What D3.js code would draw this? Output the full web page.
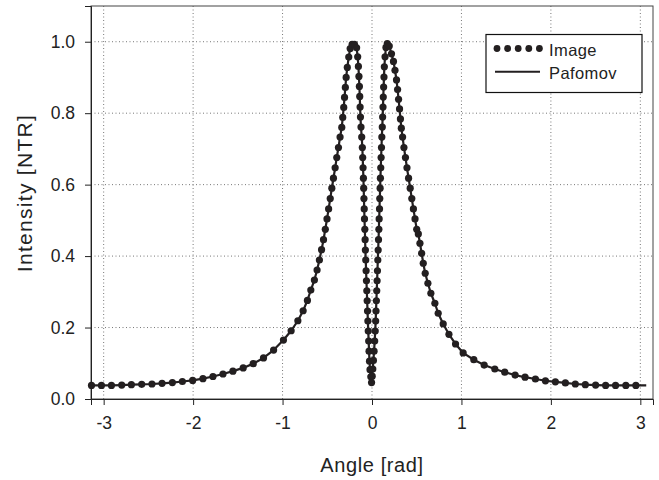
<!DOCTYPE html>
<html>
<head>
<meta charset="utf-8">
<script src="https://cdn.jsdelivr.net/npm/d3@7"></script>
<style>
  html, body { margin: 0; padding: 0; background: #fff; }
  svg { display: block; font-family: "Liberation Sans", Arial, Helvetica, sans-serif; }
</style>
</head>
<body>
<svg id="chart" width="659" height="480"></svg>
<script>
// ---- data ----
const xTicks = [-3, -2, -1, 0, 1, 2, 3];
const yTicks = [0.0, 0.2, 0.4, 0.6, 0.8, 1.0];
const seriesNames = ["Image", "Pafomov"];

// "Image" measured points (angle in rad, intensity in NTR)
const imageAngle = [
  -3.136, -3.025, -2.913, -2.798, -2.690, -2.575, -2.460, -2.347, -2.232, -2.120,
  -2.005, -1.890, -1.778, -1.666, -1.555, -1.440, -1.328, -1.213, -1.100, -0.990,
  -0.904, -0.829, -0.770, -0.722, -0.684, -0.644, -0.614, -0.588,
  -0.564, -0.542, -0.522, -0.503, -0.485, -0.467, -0.449, -0.431, -0.412, -0.394, -0.375, -0.357,
  -0.338, -0.327, -0.316, -0.307, -0.298, -0.289, -0.276, -0.260, -0.244, -0.222, -0.196,
  -0.172, -0.160, -0.152, -0.146, -0.141, -0.137, -0.133, -0.129, -0.123, -0.115, -0.108,
  -0.104, -0.100, -0.096, -0.093, -0.090, -0.087, -0.084, -0.080, -0.077, -0.074,
  -0.070, -0.066, -0.062, -0.058, -0.054, -0.050, -0.046, -0.042, -0.037, -0.033, -0.028, -0.022, -0.013, -0.005,
  0.002,
  0.009, 0.016, 0.023, 0.030, 0.036, 0.041, 0.045, 0.049, 0.053, 0.057, 0.061, 0.065, 0.069, 0.073,
  0.077, 0.080, 0.084, 0.087, 0.091, 0.094, 0.098, 0.102, 0.106, 0.110,
  0.115, 0.119, 0.123, 0.126, 0.130, 0.134, 0.138, 0.146, 0.156, 0.171, 0.193, 0.218,
  0.240, 0.257, 0.274, 0.286, 0.297, 0.308, 0.318, 0.328, 0.342, 0.357,
  0.374, 0.391, 0.409, 0.427, 0.445, 0.463, 0.481, 0.500, 0.518, 0.536,
  0.555, 0.573, 0.595, 0.625, 0.658, 0.703, 0.740, 0.796, 0.860, 0.934,
  1.019, 1.138, 1.254, 1.373, 1.484, 1.600, 1.711, 1.827, 1.939, 2.050,
  2.162, 2.273, 2.385, 2.500, 2.612, 2.723, 2.838, 2.950, 3.066
];
const imageIntensity = [
  0.038, 0.038, 0.038, 0.039, 0.040, 0.041, 0.042, 0.044, 0.046, 0.049,
  0.052, 0.057, 0.063, 0.070, 0.078, 0.087, 0.099, 0.115, 0.137, 0.165,
  0.191, 0.219, 0.247, 0.276, 0.305, 0.333, 0.361, 0.389,
  0.418, 0.446, 0.475, 0.504, 0.532, 0.561, 0.590, 0.618, 0.647, 0.676, 0.704, 0.733,
  0.760, 0.788, 0.816, 0.844, 0.872, 0.900, 0.928, 0.957, 0.981, 0.993, 0.993,
  0.983, 0.958, 0.931, 0.903, 0.875, 0.847, 0.817, 0.789, 0.761, 0.733, 0.704,
  0.676, 0.647, 0.618, 0.590, 0.561, 0.532, 0.504, 0.475, 0.446, 0.417,
  0.389, 0.359, 0.331, 0.303, 0.275, 0.246, 0.218, 0.190, 0.162, 0.134, 0.106, 0.082, 0.062,
  0.046,
  0.064, 0.084, 0.108, 0.134, 0.162, 0.190, 0.218, 0.246, 0.275, 0.303, 0.331, 0.359, 0.389, 0.417,
  0.446, 0.475, 0.504, 0.532, 0.561, 0.590, 0.618, 0.647, 0.676, 0.704,
  0.733, 0.761, 0.789, 0.817, 0.845, 0.873, 0.901, 0.930, 0.958, 0.984, 0.995, 0.988,
  0.966, 0.945, 0.920, 0.893, 0.866, 0.839, 0.812, 0.784, 0.758, 0.733,
  0.704, 0.676, 0.647, 0.618, 0.590, 0.561, 0.532, 0.504, 0.475, 0.462,
  0.436, 0.408, 0.380, 0.352, 0.324, 0.296, 0.268, 0.240, 0.210, 0.181,
  0.154, 0.129, 0.110, 0.095, 0.084, 0.075, 0.067, 0.061, 0.056, 0.051,
  0.048, 0.045, 0.042, 0.040, 0.039, 0.038, 0.038, 0.038, 0.038
];
// "Pafomov" calculated curve (same sampling, extended to the plot edges)
const pafomovAngle = [-Math.PI].concat(imageAngle, [Math.PI]);
const pafomovIntensity = [0.038].concat(imageIntensity, [0.038]);

// ---- layout ----
const plot = { left: 91, top: 6, right: 653, bottom: 399 };
const svg = d3.select("#chart");

const x = d3.scaleLinear().domain([-Math.PI, Math.PI]).range([plot.left, plot.right]);
const y = d3.scaleLinear().domain([0, 1.1]).range([plot.bottom, plot.top]);

const ink = "#231f20";
const font = "Liberation Sans, Arial, sans-serif";

// grid
const grid = svg.append("g");
grid.selectAll("line.gx").data(xTicks).enter().append("line")
  .attr("x1", d => x(d)).attr("x2", d => x(d))
  .attr("y1", plot.top).attr("y2", plot.bottom)
  .attr("stroke", "#777").attr("stroke-width", 1).attr("stroke-dasharray", "1,2.5");
grid.selectAll("line.gy").data(yTicks.filter(d => d > 0)).enter().append("line")
  .attr("x1", plot.left).attr("x2", plot.right)
  .attr("y1", d => y(d)).attr("y2", d => y(d))
  .attr("stroke", "#777").attr("stroke-width", 1).attr("stroke-dasharray", "1,2.5");

// frame
svg.append("rect")
  .attr("x", plot.left).attr("y", plot.top)
  .attr("width", plot.right - plot.left).attr("height", plot.bottom - plot.top)
  .attr("fill", "none").attr("stroke", "#444").attr("stroke-width", 1);

// axes
const xAxis = d3.axisBottom(x).tickValues(xTicks).tickSize(6).tickPadding(5)
  .tickFormat(d3.format("d"));
const gx = svg.append("g").attr("transform", `translate(0,${plot.bottom})`).call(xAxis);
gx.select(".domain").attr("stroke", "#222");
gx.selectAll(".tick line").attr("stroke", "#222");
gx.selectAll(".tick text").attr("font-size", 17.5).attr("fill", "#222")
  .attr("font-family", font).attr("dy", "1.08em")
  .text(d => String(d).replace("\u2212", "-"));

const yAxis = d3.axisLeft(y).tickValues(yTicks).tickSize(6).tickPadding(10)
  .tickFormat(d3.format(".1f"));
const gy = svg.append("g").attr("transform", `translate(${plot.left},0)`).call(yAxis);
gy.select(".domain").attr("stroke", "#222");
gy.selectAll(".tick line").attr("stroke", "#222");
gy.selectAll(".tick text").attr("font-size", 17.5).attr("fill", "#222")
  .attr("font-family", font);

// axis titles
svg.append("text")
  .attr("x", (plot.left + plot.right) / 2).attr("y", 472)
  .attr("text-anchor", "middle").attr("font-size", 20).attr("letter-spacing", 0.6)
  .attr("fill", "#222").text("Angle [rad]");
svg.append("text")
  .attr("transform", `translate(32,${(113 + 273) / 2}) rotate(-90)`)
  .attr("text-anchor", "middle").attr("font-size", 21).attr("letter-spacing", 1.3)
  .attr("fill", "#222").text("Intensity [NTR]");

// Pafomov line
const line = d3.line().x(d => x(d[0])).y(d => y(d[1]));
const pafomovPts = d3.zip(pafomovAngle, pafomovIntensity);
svg.append("path").datum(pafomovPts)
  .attr("d", line).attr("fill", "none")
  .attr("stroke", ink).attr("stroke-width", 2.2).attr("stroke-linejoin", "round");

// Image dots
const imagePts = d3.zip(imageAngle, imageIntensity);
svg.append("g").selectAll("circle").data(imagePts).enter().append("circle")
  .attr("cx", d => x(d[0])).attr("cy", d => y(d[1])).attr("r", 3.6).attr("fill", ink);

// legend
const lg = svg.append("g");
lg.append("rect").attr("x", 486).attr("y", 34.5).attr("width", 156).attr("height", 58)
  .attr("fill", "#fff").attr("stroke", "#111").attr("stroke-width", 1.2);
const legendDots = d3.range(5);
lg.selectAll("circle").data(legendDots).enter().append("circle")
  .attr("cx", d => 497 + d * 10.6).attr("cy", 48.5).attr("r", 3.4).attr("fill", ink);
lg.append("line").attr("x1", 495).attr("x2", 540).attr("y1", 71.7).attr("y2", 71.7)
  .attr("stroke", ink).attr("stroke-width", 2);
lg.selectAll("text").data(seriesNames).enter().append("text")
  .attr("x", 549).attr("y", (d, i) => 55.5 + i * 23)
  .attr("font-size", 16.5).attr("letter-spacing", 0.4).attr("fill", "#222").text(d => d);
</script>
</body>
</html>
